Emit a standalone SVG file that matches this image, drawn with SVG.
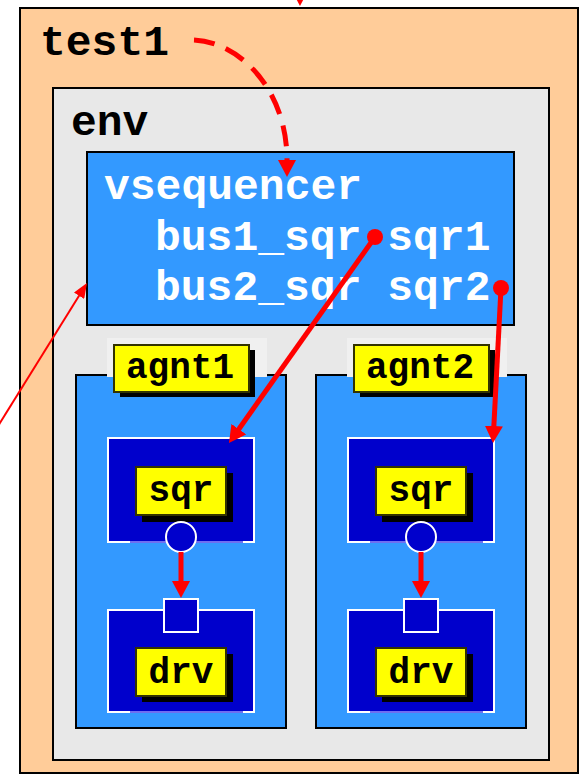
<svg xmlns="http://www.w3.org/2000/svg" width="583" height="775" viewBox="0 0 583 775">
  <defs>
    <style>
      .frame { stroke: #000; stroke-width: 2; }
      .big { font-family: "Courier New", "Liberation Mono", "DejaVu Sans Mono", monospace; font-weight: bold; font-size: 43px; }
      .lbl { font-family: "Courier New", "Liberation Mono", "DejaVu Sans Mono", monospace; font-weight: bold; font-size: 36px; fill: #000; }
      .tag { fill: #FFFF00; stroke: #333300; stroke-width: 2; }
      .shadow { fill: #000; }
      .comp { fill: #0000CC; stroke: #FFFFFF; stroke-width: 2; }
      .seam { stroke: #6F6FF0; stroke-width: 2; }
      .wire { stroke: #FF0000; fill: none; }
    </style>
    <!-- arrowheads: ref point sits 5px behind the tip's base so the line end is hidden -->
    <marker id="head" viewBox="0 0 17 18" refX="5" refY="9" markerWidth="17" markerHeight="18" markerUnits="userSpaceOnUse" orient="auto">
      <path d="M0,0 L17,9 L0,18 z" fill="#FF0000"/>
    </marker>
    <marker id="headBase" viewBox="0 0 17 18" refX="0" refY="9" markerWidth="17" markerHeight="18" markerUnits="userSpaceOnUse" orient="auto">
      <path d="M0,0 L17,9 L0,18 z" fill="#FF0000"/>
    </marker>
    <marker id="thinHead" viewBox="0 0 15 12" refX="5" refY="6" markerWidth="15" markerHeight="12" markerUnits="userSpaceOnUse" orient="auto">
      <path d="M0,0 L15,6 L0,12 z" fill="#FF0000"/>
    </marker>
  </defs>

  <rect width="583" height="775" fill="#FFFFFF"/>

  <g id="test1">
    <rect class="frame" x="20" y="8" width="558" height="765" fill="#FFCC99"/>
    <text class="big" x="40" y="55" fill="#000">test1</text>
  </g>

  <g id="env">
    <rect class="frame" x="53" y="88" width="496" height="672" fill="#E8E8E8"/>
    <text class="big" x="71" y="135" fill="#000">env</text>
  </g>

  <g id="vsequencer">
    <rect class="frame" x="87" y="152" width="427" height="173" fill="#3399FF"/>
    <text class="big" x="104" y="199" fill="#FFFFFF">vsequencer</text>
    <text class="big" x="155" y="250" fill="#FFFFFF">bus1_sqr sqr1</text>
    <text class="big" x="155" y="300" fill="#FFFFFF">bus2_sqr sqr2</text>
  </g>

  <g id="agnt1">
    <rect class="frame" x="76" y="375" width="210" height="353" fill="#3399FF"/>
    <rect x="107" y="338" width="160" height="39" fill="#F0F0F0"/>
    <rect class="shadow" x="120" y="350" width="135" height="47"/>
    <rect class="tag" x="114" y="345" width="135" height="47"/>
    <text class="lbl" x="180" y="378" text-anchor="middle">agnt1</text>
    <g id="agnt1_sqr">
      <rect class="comp" x="108" y="438" width="146" height="104"/>
      <line class="seam" x1="130" y1="542" x2="243" y2="542"/>
      <rect class="shadow" x="142" y="473" width="91" height="49"/>
      <rect class="tag" x="136" y="467" width="90" height="48"/>
      <text class="lbl" x="181" y="501" text-anchor="middle">sqr</text>
      <circle class="comp" cx="181" cy="537" r="15"/>
    </g>
    <g id="agnt1_drv">
      <rect class="comp" x="108" y="610" width="146" height="102"/>
      <line class="seam" x1="130" y1="712" x2="243" y2="712"/>
      <rect class="comp" x="164" y="599" width="34" height="33"/>
      <rect class="shadow" x="142" y="654" width="91" height="48"/>
      <rect class="tag" x="136" y="648" width="90" height="48"/>
      <text class="lbl" x="181" y="683" text-anchor="middle">drv</text>
    </g>
  </g>

  <g id="agnt2">
    <rect class="frame" x="316" y="375" width="210" height="353" fill="#3399FF"/>
    <rect x="347" y="338" width="160" height="39" fill="#F0F0F0"/>
    <rect class="shadow" x="360" y="350" width="135" height="47"/>
    <rect class="tag" x="354" y="345" width="135" height="47"/>
    <text class="lbl" x="420" y="378" text-anchor="middle">agnt2</text>
    <g id="agnt2_sqr">
      <rect class="comp" x="348" y="438" width="146" height="104"/>
      <line class="seam" x1="370" y1="542" x2="483" y2="542"/>
      <rect class="shadow" x="382" y="473" width="91" height="49"/>
      <rect class="tag" x="376" y="467" width="90" height="48"/>
      <text class="lbl" x="421" y="501" text-anchor="middle">sqr</text>
      <circle class="comp" cx="421" cy="537" r="15"/>
    </g>
    <g id="agnt2_drv">
      <rect class="comp" x="348" y="610" width="146" height="102"/>
      <line class="seam" x1="370" y1="712" x2="483" y2="712"/>
      <rect class="comp" x="404" y="599" width="34" height="33"/>
      <rect class="shadow" x="382" y="654" width="91" height="48"/>
      <rect class="tag" x="376" y="648" width="90" height="48"/>
      <text class="lbl" x="421" y="683" text-anchor="middle">drv</text>
    </g>
  </g>

  <g id="connectors">
    <!-- incoming from above, into test1 -->
    <line class="wire" stroke-width="4" x1="300" y1="-40" x2="300" y2="-6" marker-end="url(#head)"/>
    <!-- test1 to vsequencer (dashed) -->
    <path class="wire" stroke-width="5" stroke-dasharray="21 12" d="M194,40 C240,42 287,90 287,160" marker-end="url(#headBase)"/>
    <!-- external thin arrow to vsequencer -->
    <line class="wire" stroke-width="2" x1="-10" y1="439" x2="81.7" y2="291.5" marker-end="url(#thinHead)"/>
    <!-- sqr1 / sqr2 handles to agent sequencers -->
    <line class="wire" stroke-width="5" x1="375" y1="237" x2="235.9" y2="433.2" marker-end="url(#head)"/>
    <line class="wire" stroke-width="5" x1="501" y1="288" x2="493.6" y2="431" marker-end="url(#head)"/>
    <circle cx="375" cy="237" r="8" fill="#FF0000"/>
    <circle cx="501" cy="288" r="8" fill="#FF0000"/>
    <!-- sequencer to driver ports -->
    <line class="wire" stroke-width="5" x1="181" y1="552" x2="181" y2="586" marker-end="url(#head)"/>
    <line class="wire" stroke-width="5" x1="421" y1="552" x2="421" y2="586" marker-end="url(#head)"/>
  </g>
</svg>
